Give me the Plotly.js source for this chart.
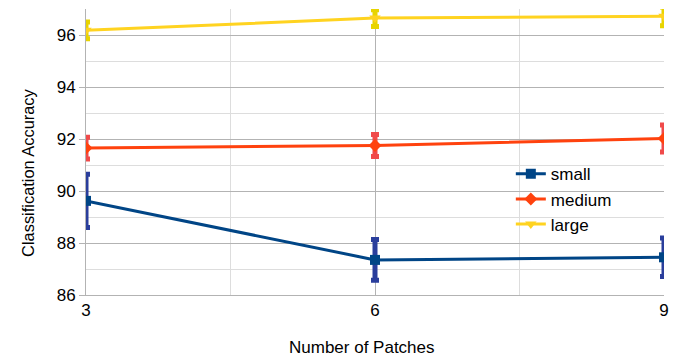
<!DOCTYPE html>
<html>
<head>
<meta charset="utf-8">
<script src="https://cdn.plot.ly/plotly-3.0.1.min.js"></script>
<style>
  html, body { margin: 0; padding: 0; background: #fff; }
  #chart { width: 691px; height: 359px; }
</style>
</head>
<body>
<div id="chart"></div>
<script>
// Number of patches on the x axis
const patches = [3, 6, 9];

// Mean classification accuracy per model size
const smallAcc = [89.62, 87.35, 87.45];
const mediumAcc = [91.65, 91.75, 92.02];
const largeAcc = [96.18, 96.65, 96.72];

// Half-width of the error bars
const smallErr = [1.02, 0.78, 0.74];
const mediumErr = [0.42, 0.42, 0.52];
const largeErr = [0.32, 0.32, 0.36];

function series(name, y, err, lineColor, barColor, symbol) {
  return {
    x: patches,
    y: y,
    name: name,
    type: 'scatter',
    mode: 'lines+markers',
    line: { color: lineColor, width: 3 },
    marker: { symbol: symbol, size: 10, color: lineColor },
    error_y: {
      type: 'data',
      array: err,
      visible: true,
      color: barColor,
      thickness: 5,
      width: 4
    }
  };
}

const traces = [
  series('small', smallAcc, smallErr, '#004586', '#2a3e9c', 'square'),
  series('medium', mediumAcc, mediumErr, '#ff420e', '#f04a4a', 'diamond'),
  series('large', largeAcc, largeErr, '#ffd320', '#e8d400', 'triangle-down')
];

const layout = {
  width: 691,
  height: 359,
  margin: { l: 86, r: 27, t: 9, b: 64 },
  paper_bgcolor: '#ffffff',
  plot_bgcolor: '#ffffff',
  font: { family: 'Liberation Sans, Arial, sans-serif', size: 17, color: '#000' },
  showlegend: true,
  legend: {
    x: 0.735, y: 0.485, xanchor: 'left', yanchor: 'top',
    bgcolor: 'rgba(0,0,0,0)',
    font: { size: 17 },
    tracegroupgap: 0
  },
  xaxis: {
    range: [3, 9],
    tickvals: [3, 6, 9],
    ticktext: ['3', '6', '9'],
    tickfont: { size: 17 },
    showgrid: true,
    gridcolor: '#b3b3b3',
    gridwidth: 1,
    minor: { dtick: 1.5, tick0: 3, showgrid: true, gridcolor: '#dddddd', gridwidth: 1 },
    zeroline: false,
    showline: true,
    linecolor: '#b3b3b3',
    ticks: ''
  },
  yaxis: {
    range: [86, 97],
    tick0: 86,
    dtick: 2,
    tickfont: { size: 17 },
    showgrid: true,
    gridcolor: '#b3b3b3',
    gridwidth: 1,
    minor: { dtick: 1, tick0: 86, showgrid: true, gridcolor: '#dddddd', gridwidth: 1 },
    zeroline: false,
    showline: true,
    linecolor: '#b3b3b3',
    ticks: 'outside',
    ticklen: 6,
    tickcolor: '#b3b3b3'
  },
  // Axis titles placed as annotations so they can sit slightly off the plot centre
  annotations: [
    {
      text: 'Number of Patches',
      xref: 'paper', yref: 'paper',
      x: 0.4775, y: 0, yshift: -52,
      xanchor: 'center', yanchor: 'middle',
      showarrow: false,
      font: { size: 17 }
    },
    {
      text: 'Classification Accuracy',
      xref: 'paper', yref: 'paper',
      x: 0, xshift: -58, y: 0.427,
      xanchor: 'center', yanchor: 'middle',
      textangle: -90,
      showarrow: false,
      font: { size: 16.4 }
    }
  ]
};

Plotly.newPlot('chart', traces, layout, { displayModeBar: false, staticPlot: true });
</script>
</body>
</html>
